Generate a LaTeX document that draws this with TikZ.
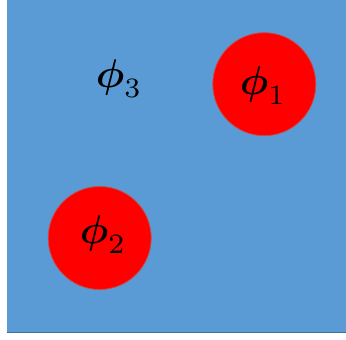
\documentclass[tikz,border=0pt]{standalone}
\usepackage{amsmath}
\usepackage{xcolor}
\usepackage{graphicx}
\definecolor{bgblue}{HTML}{5B9BD5}
\definecolor{edgeblue}{HTML}{41719C}
\definecolor{dotred}{HTML}{FF0000}
\definecolor{dotedge}{HTML}{C0504D}
\newcommand{\biglab}[1]{\scalebox{4}{$\boldsymbol{\phi}_{#1}$}}
\begin{document}
\begin{tikzpicture}[x=1pt,y=1pt,
  dot/.style={circle,fill=dotred,draw=dotedge,line width=0.8pt,minimum size=103pt,inner sep=0pt},
  lab/.style={inner sep=0pt,text=black}]
\useasboundingbox (0,0) rectangle (346,340);
\fill[white] (0,0) rectangle (346,340);
\fill[bgblue] (7,7) rectangle (346,340);
\draw[edgeblue,line width=1pt] (7,7.5) -- (346,7.5);
\node[dot] (c1) at (264.3,255.8) {};
\node[dot] (c2) at (99.7,102) {};
\node[lab] (p1) at (263,254.5) {\biglab{1}};
\node[lab] (p2) at (103,105) {\biglab{2}};
\node[lab] (p3) at (119,261.3) {\biglab{3}};
\end{tikzpicture}
\end{document}
